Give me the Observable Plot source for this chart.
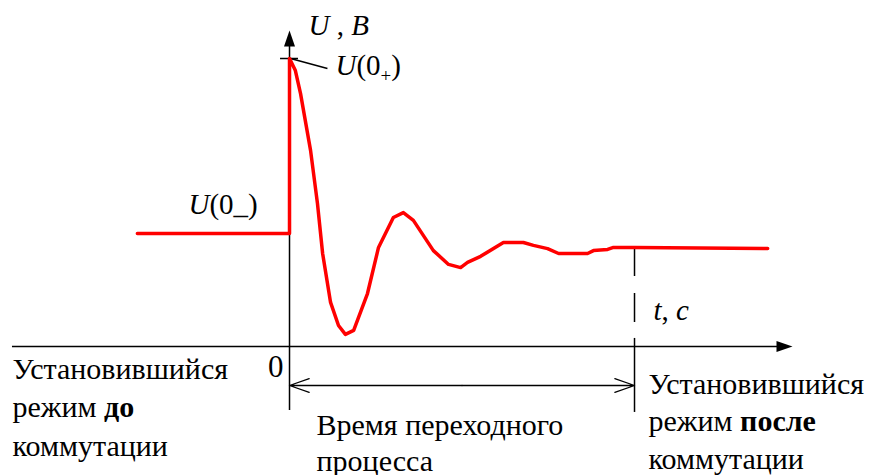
<!DOCTYPE html>
<html><head><meta charset="utf-8">
<script src="https://cdn.jsdelivr.net/npm/d3@7"></script>
<script src="https://cdn.jsdelivr.net/npm/@observablehq/plot@0.6"></script>
<style>
body{margin:0;background:#fff}
#chart svg text { font-family: "Liberation Serif", "Times New Roman", "DejaVu Serif", serif !important; }
</style>
</head><body>
<div id="chart"></div>
<script>
// Transient voltage U(t) (t in arbitrary units, transient ends at t = 10)
const timeValues = [-4.41, 0, 0, 0.17, 0.32, 0.61, 0.81, 0.96, 1.19, 1.42, 1.62, 1.86, 2.26, 2.58, 3.01, 3.30, 3.59, 4.17, 4.61, 4.96, 5.16, 5.54, 6.20, 6.78, 7.07, 7.48, 7.80, 8.64, 8.81, 9.22, 9.39, 10, 13.86];
const voltageValues = [3.92, 3.92, 10, 9.58, 8.78, 6.81, 4.97, 3.23, 1.53, 0.73, 0.42, 0.56, 1.84, 3.44, 4.48, 4.65, 4.38, 3.33, 2.85, 2.74, 2.92, 3.13, 3.61, 3.61, 3.51, 3.40, 3.23, 3.23, 3.33, 3.37, 3.44, 3.44, 3.40];

const uJump = 10;          // U(0+)
const uSteady = 3.44;      // steady state after commutation
const tTransientEnd = 10;  // end of the transient

const xAxisExtent = [-8.03, 14.58];
const yAxisExtent = [-2.22, 10.97];
const spanLevel = -1.354;  // level of the double arrow
const dashBottom = 0.28;
const markerBottom = -2.29;

// Text lines: position (t, U of baseline), pieces [text, style]
const lineT = [-8.029, -8.029, -8.029, 0.783, 0.783, 10.406, 10.406, 10.406];
const lineU = [-1.111, -2.465, -3.819, -3.090, -4.306, -1.632, -2.951, -4.236];
const lineText = [
  [["Установившийся", "n"]],
  [["режим ", "n"], ["до", "b"]],
  [["коммутации", "n"]],
  [["Время переходного", "n"]],
  [["процесса", "n"]],
  [["Установившийся", "n"]],
  [["режим ", "n"], ["после", "b"]],
  [["коммутации", "n"]]
];
// Math labels
const mathT = [0.551, 1.333, -2.928, 10.551];
const mathU = [10.799, 9.41, 4.618, 0.903];
const mathText = [
  [["U", "i"], [" , ", "n"], ["B", "i"]],
  [["U", "i"], ["(0", "n"], ["+", "sub"], [")", "n"]],
  [["U", "i"], ["(0_)", "n"]],
  [["t", "i"], [", ", "n"], ["c", "i"]]
];
const originLabel = "0";
const originT = -0.174, originU = -1.042;

const curve = timeValues.map((t, i) => ({t, u: voltageValues[i]}));

const FONT = "Liberation Serif";
const ctx = document.createElement("canvas").getContext("2d");
function measure(text, size, style) {
  ctx.font = `${style === "i" ? "italic " : ""}${style === "b" ? "bold " : ""}${size}px "${FONT}", serif`;
  return ctx.measureText(text).width;
}
function rich(t, u, pieces, size) {
  let dx = 0;
  const marks = [];
  for (const [text, style] of pieces) {
    const s = style === "sub" ? Math.round(size * 0.66) : size;
    const opts = {
      x: "t", y: "u", text: "text", dx, dy: style === "sub" ? 7 : 0,
      textAnchor: "start", lineAnchor: "bottom", fontSize: s, fontFamily: FONT, fill: "black"
    };
    if (style === "i") opts.fontStyle = "italic";
    if (style === "b") opts.fontWeight = "bold";
    marks.push(Plot.text([{t, u, text}], opts));
    dx += measure(text, s, style);
  }
  return marks;
}

const textMarks = [
  ...lineText.flatMap((p, i) => rich(lineT[i], lineU[i], p, 30)),
  ...mathText.flatMap((p, i) => rich(mathT[i], mathU[i], p, 29)),
  Plot.text([{t: originT, u: originU, text: originLabel}], {x: "t", y: "u", text: "text", textAnchor: "end", lineAnchor: "bottom", fontSize: 31, fontFamily: FONT, fill: "black"})
];

const arrowRight = {draw(c) { c.moveTo(0, 0); c.lineTo(-16, -5.5); c.lineTo(-16, 5.5); c.closePath(); }};
const arrowUp = {draw(c) { c.moveTo(0, 0); c.lineTo(-5.5, 16); c.lineTo(5.5, 16); c.closePath(); }};

const plot = Plot.plot({
  width: 882, height: 475,
  marginTop: 0, marginRight: 0, marginBottom: 0, marginLeft: 0,
  x: {domain: [-8.377, 17.188], axis: null},
  y: {domain: [-4.479, 12.014], axis: null},
  style: {background: "white", overflow: "visible"},
  marks: [
    // axes with filled arrowheads
    Plot.ruleY([0], {x1: xAxisExtent[0], x2: xAxisExtent[1] - 0.3, stroke: "black", strokeWidth: 1.5}),
    Plot.ruleX([0], {y1: yAxisExtent[0], y2: yAxisExtent[1] - 0.4, stroke: "black", strokeWidth: 1.5}),
    Plot.dot([{t: xAxisExtent[1], u: 0}], {x: "t", y: "u", symbol: arrowRight, r: 5, fill: "black", stroke: null}),
    Plot.dot([{t: 0, u: yAxisExtent[1]}], {x: "t", y: "u", symbol: arrowUp, r: 5, fill: "black", stroke: null}),
    // tick and leader at U(0+)
    Plot.ruleY([uJump], {x1: -0.26, x2: 0.26, stroke: "black", strokeWidth: 1.5}),
    Plot.link([{t1: 0.03, u1: uJump, t2: 1.10, u2: 9.65}], {x1: "t1", y1: "u1", x2: "t2", y2: "u2", stroke: "black", strokeWidth: 1.5}),
    // end of transient marker
    Plot.ruleX([tTransientEnd], {y1: uSteady, y2: dashBottom, stroke: "black", strokeWidth: 1.5, strokeDasharray: "29 17"}),
    Plot.ruleX([tTransientEnd], {y1: dashBottom, y2: markerBottom, stroke: "black", strokeWidth: 1.5}),
    // double arrow: duration of the transient
    Plot.arrow([{a: 5, b: 0}, {a: 5, b: tTransientEnd}], {x1: "a", x2: "b", y1: spanLevel, y2: spanLevel, headLength: 24, headAngle: 38, stroke: "black", strokeWidth: 1.3}),
    // the curve
    Plot.line(curve, {x: "t", y: "u", stroke: "#ff0000", strokeWidth: 3.5, strokeLinejoin: "round"}),
    ...textMarks
  ]
});
document.getElementById("chart").appendChild(plot);
</script>
</body></html>
